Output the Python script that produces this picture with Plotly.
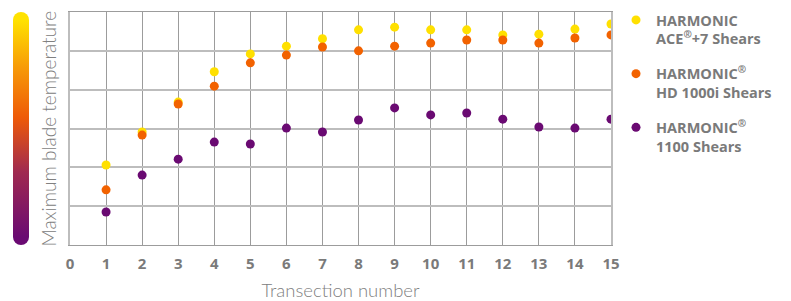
import plotly.graph_objects as go

transections = list(range(1, 16))
x_ticks = list(range(0, 16))

ace7 = [2.06, 2.91, 3.68, 4.46, 4.92, 5.12, 5.31, 5.54, 5.61, 5.54, 5.54, 5.41, 5.43, 5.56, 5.69]
hd1000i = [1.42, 2.83, 3.63, 4.09, 4.69, 4.89, 5.10, 5.00, 5.12, 5.20, 5.28, 5.28, 5.20, 5.33, 5.41]
h1100 = [0.85, 1.80, 2.21, 2.65, 2.60, 3.01, 2.91, 3.22, 3.53, 3.35, 3.40, 3.24, 3.04, 3.01, 3.24]

series_names = [
    "HARMONIC<br>ACE<sup>®</sup>+7 Shears",
    "HARMONIC<sup>®</sup><br>HD 1000i Shears",
    "HARMONIC<sup>®</sup><br>1100 Shears",
]
series_colors = ["#FFE000", "#F26200", "#6A0A72"]
series_values = [ace7, hd1000i, h1100]

grad = [[0.0, "#6A0A72"], [0.3, "#A02A50"], [0.55, "#EE5A08"], [0.78, "#F79A08"], [1.0, "#FFE200"]]

fig = go.Figure()
for name, col, vals in zip(series_names, series_colors, series_values):
    fig.add_trace(go.Scatter(
        x=transections, y=vals, mode="markers", name=name,
        marker=dict(color=col, size=9, line=dict(width=0)),
        legendgroup=name,
    ))

# colour bar (temperature gradient)
fig.add_trace(go.Scatter(
    x=[None], y=[None], mode="markers", showlegend=False, hoverinfo="skip",
    marker=dict(color=[0], cmin=0, cmax=1, colorscale=grad, showscale=True,
                colorbar=dict(xref="container", yref="paper", x=13 / 791, xanchor="left",
                              y=0.5, yanchor="middle",
                              lenmode="pixels", len=217, thickness=16,
                              thicknessmode="pixels", xpad=0, ypad=0,
                              outlinewidth=0, showticklabels=False, ticks="")),
))

W = 541.0
H = 233.0
def px_x(p):
    return (p - 70) / W
def px_y(p):
    return (245 - p) / H

fig.add_shape(type="circle", xref="paper", yref="paper",
              x0=px_x(13), x1=px_x(29), y0=px_y(28), y1=px_y(12),
              fillcolor="#FFE200", line=dict(width=0), layer="above")
fig.add_shape(type="circle", xref="paper", yref="paper",
              x0=px_x(13), x1=px_x(29), y0=px_y(245), y1=px_y(229),
              fillcolor="#6A0A72", line=dict(width=0), layer="above")

fig.add_annotation(text="Maximum blade temperature", xref="paper", yref="paper",
                   x=px_x(48), y=0.5, xanchor="center", yanchor="middle", textangle=-90,
                   showarrow=False, font=dict(family="Lato", size=19, color="#808080", weight=300))

fig.update_layout(
    width=791, height=301,
    margin=dict(l=70, r=180, t=12, b=56, autoexpand=False),
    plot_bgcolor="white", paper_bgcolor="white",
    font=dict(family="Lato", color="#7a7a7a"),
    showlegend=True,
    legend=dict(x=px_x(616), y=px_y(4), xanchor="left", yanchor="top",
                valign="top", tracegroupgap=13, maxheight=290,
                font=dict(family="Open Sans", size=14.5, color="#7a7a7a", weight="bold"),
                bgcolor="rgba(0,0,0,0)"),
    xaxis=dict(range=[0, 15], tickvals=x_ticks, ticktext=[str(v) for v in x_ticks],
               showgrid=True, gridcolor="#9c9c9c", gridwidth=1, zeroline=False,
               ticks="outside", ticklen=5, tickcolor="rgba(0,0,0,0)",
               tickfont=dict(family="Open Sans", size=15, color="#7a7a7a", weight="bold"),
               title=dict(text="Transection number", standoff=14,
                          font=dict(family="Lato", size=18.5, color="#808080", weight=300)),
               showline=True, mirror=True, linecolor="#9c9c9c", linewidth=1,
               fixedrange=True, automargin=False),
    yaxis=dict(range=[0, 6], dtick=1, showgrid=True, gridcolor="#bdbdbd", gridwidth=1.5,
               zeroline=False, showticklabels=False, showline=True, mirror=True,
               linecolor="#bdbdbd", linewidth=1.5, fixedrange=True,
               automargin=False),
)

fig.write_html("out.html", config={"displayModeBar": False},
               post_script="document.body.style.margin='0';document.body.style.padding='0';")
